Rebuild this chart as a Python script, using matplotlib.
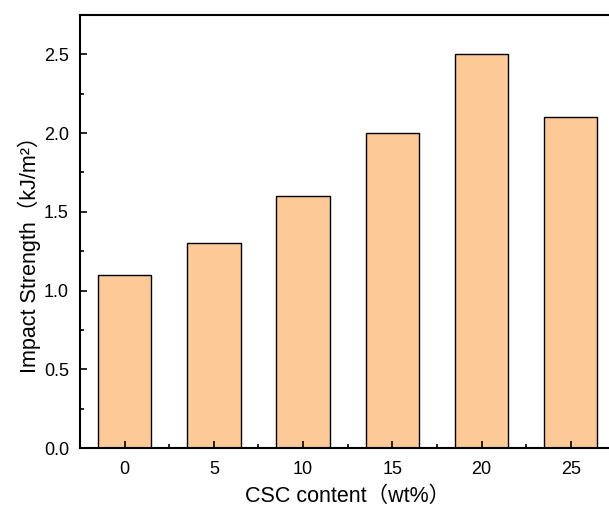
import matplotlib.pyplot as plt
from matplotlib.ticker import MultipleLocator

content = [0, 5, 10, 15, 20, 25]  # wt%
impact = [1.1, 1.3, 1.6, 2.0, 2.5, 2.1]  # kJ/m2

plt.rcParams['font.family'] = ['Liberation Sans', 'Noto Sans CJK SC']

fig = plt.figure(figsize=(6.09, 5.08), dpi=100)
ax = fig.add_axes([0.1314, 0.118, 0.879, 0.8525])

ax.bar(content, impact, width=3, color='#FCC997', edgecolor='black', linewidth=1)

ax.set_xlim(-2.5, 27.5)
ax.set_ylim(0, 2.75)
ax.set_xticks(content)
ax.xaxis.set_minor_locator(MultipleLocator(2.5))
ax.yaxis.set_major_locator(MultipleLocator(0.5))
ax.yaxis.set_minor_locator(MultipleLocator(0.25))
ax.yaxis.set_major_formatter(plt.FormatStrFormatter('%.1f'))
ax.tick_params(which='major', direction='in', length=5, width=1.2, labelsize=13)
ax.tick_params(which='minor', direction='in', length=3, width=1.2)
ax.tick_params(axis='x', pad=9)
ax.tick_params(axis='y', pad=8)
for s in ax.spines.values():
    s.set_linewidth(1.5)
ax.spines['right'].set_visible(False)

ax.set_xlabel('CSC content（wt%）', fontsize=15.5, labelpad=6)
ax.set_ylabel('Impact Strength（kJ/m²）', fontsize=15.5)
ax.yaxis.set_label_coords(-0.073, 0.46)

plt.savefig('out.png', dpi=100)
